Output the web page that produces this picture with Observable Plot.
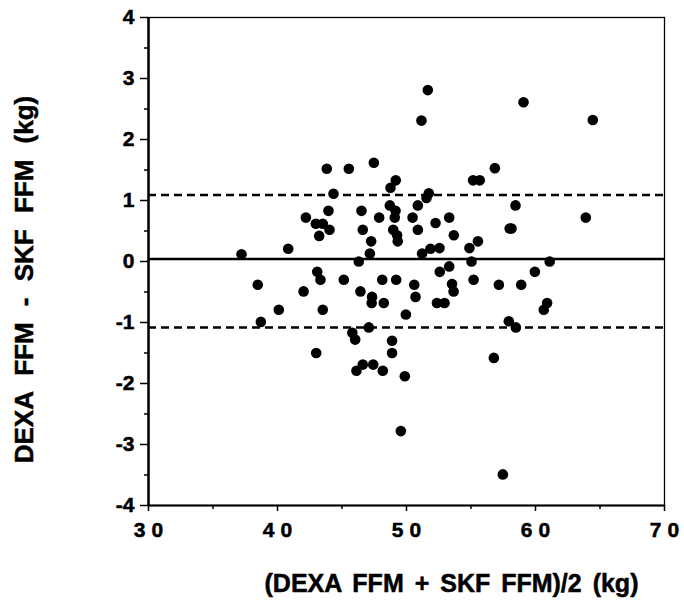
<!DOCTYPE html>
<html><head><meta charset="utf-8">
<script src="https://cdn.jsdelivr.net/npm/d3@7"></script>
<script src="https://cdn.jsdelivr.net/npm/@observablehq/plot@0.6"></script>
<style>
body{margin:0;background:#fff}
</style></head><body><div id="chart"></div>
<script>
const meanKg = [51.65,51.16,59.07,64.44,43.82,45.53,47.47,49.17,48.76,56.85,55.16,55.68,44.34,51.73,51.55,48.71,49.15,50.88,58.45,43.95,46.51,42.2,47.88,49.09,50.47,53.31,63.9,42.97,43.51,52.25,44.03,46.61,48.97,50.88,58.0,58.14,43.23,49.27,53.67,49.32,47.26,55.54,40.83,51.86,52.56,54.88,37.21,47.16,51.21,46.3,55.04,61.1,
43.08,43.33,45.14,48.12,49.2,52.58,53.31,55.2,57.16,58.89,59.95,38.47,42.02,46.43,47.33,47.3,48.24,50.6,50.7,53.53,53.65,52.36,52.95,60.9,60.64,40.1,43.51,49.95,38.71,47.08,57.93,58.48,45.8,46.02,48.88,48.88,43.0,46.61,46.12,47.42,48.16,49.87,56.77,49.56,57.47];
const diffKg = [2.81,2.31,2.61,2.32,1.52,1.52,1.62,1.33,1.21,1.53,1.33,1.33,1.11,1.12,1.04,0.92,0.83,0.92,0.92,0.83,0.83,0.72,0.72,0.72,0.72,0.72,0.72,0.62,0.62,0.63,0.52,0.52,0.52,0.52,0.54,0.54,0.42,0.43,0.43,0.33,0.33,0.33,0.21,0.21,0.22,0.22,0.12,0.13,0.13,0.0,0.0,0.0,
-0.17,-0.30,-0.30,-0.30,-0.30,-0.17,-0.08,-0.30,-0.38,-0.38,-0.17,-0.38,-0.49,-0.49,-0.58,-0.68,-0.68,-0.38,-0.58,-0.37,-0.49,-0.68,-0.68,-0.68,-0.79,-0.79,-0.79,-0.87,-0.99,-1.08,-0.98,-1.08,-1.17,-1.28,-1.30,-1.50,-1.50,-1.69,-1.79,-1.69,-1.79,-1.88,-1.58,-2.78,-3.49];
const xTicks = [30,40,50,60,70];
const xMinorTicks = [35,45,55,65];
const yTicks = [-4,-3,-2,-1,0,1,2,3,4];
const yMinorTicks = [-3.5,-2.5,-1.5,-0.5,0.5,1.5,2.5,3.5];
const meanDiff = [0.04];
const limits = [1.09,-1.08];
const xLabel = "(DEXA FFM + SKF FFM)/2 (kg)";
const yLabel = "DEXA FFM - SKF FFM (kg)";

const points = meanKg.map((x,i)=>({x, y: diffKg[i]}));

const chart = Plot.plot({
  width: 684, height: 606,
  marginLeft: 148, marginRight: 20, marginTop: 17, marginBottom: 101,
  style: {fontFamily: "'Liberation Sans', Arial, sans-serif", fontWeight: "bold", fontSize: "20px", background: "#fff", color: "#000"},
  x: {domain: [30,70]},
  y: {domain: [-4,4]},
  marks: [
    Plot.axisX({ticks: xTicks, tickSize: 6, tickFormat: () => "", strokeWidth: 1.5, label: null}),
    Plot.axisX({ticks: xMinorTicks, tickSize: 4, tickFormat: () => "", strokeWidth: 1.5, label: null}),
    Plot.axisX({ticks: xTicks, tickSize: 0, tickPadding: 17, dx: 3, fontSize: 21, label: null, tickFormat: d => String(d)}),
    Plot.axisY({ticks: yTicks, tickSize: 8, tickPadding: 6, fontSize: 21, strokeWidth: 1.5, label: null, tickFormat: d => String(d)}),
    Plot.axisY({ticks: yMinorTicks, tickSize: 4, tickFormat: () => "", strokeWidth: 1.5, label: null}),
    Plot.frame({stroke: "#000", strokeWidth: 1.3}),
    Plot.ruleX([30], {strokeWidth: 2.5}),
    Plot.ruleY([-4], {strokeWidth: 2}),
    Plot.ruleY(meanDiff, {strokeWidth: 2.5}),
    Plot.ruleY(limits, {strokeWidth: 2.5, strokeDasharray: "8,5"}),
    Plot.dot(points, {x: "x", y: "y", r: 5.3, fill: "#000", stroke: null}),
    Plot.text([xLabel], {text: d => d, frameAnchor: "bottom", dx: 45, dy: 78, fontSize: 25, fontWeight: "bold", lineAnchor: "middle", textAnchor: "middle"}),
    Plot.text([yLabel], {text: d => d, frameAnchor: "left", dx: -124, dy: 18, rotate: -90, fontSize: 26, fontWeight: "bold", lineAnchor: "middle", textAnchor: "middle"})
  ]
});
document.getElementById("chart").appendChild(chart);
const s = d3.select(chart);
const xTickSet = new Set(xTicks.map(String));
s.selectAll("text").each(function(){
  const t = this.textContent;
  const el = d3.select(this);
  el.style("stroke", "#000").style("stroke-width", "0.5px");
  if (t === xLabel) el.style("word-spacing", "4px");
  else if (t === yLabel) el.style("word-spacing", "9px");
  else if (xTickSet.has(t) && +this.getBoundingClientRect().top > 510) el.style("letter-spacing", "6px");
});
</script></body></html>
